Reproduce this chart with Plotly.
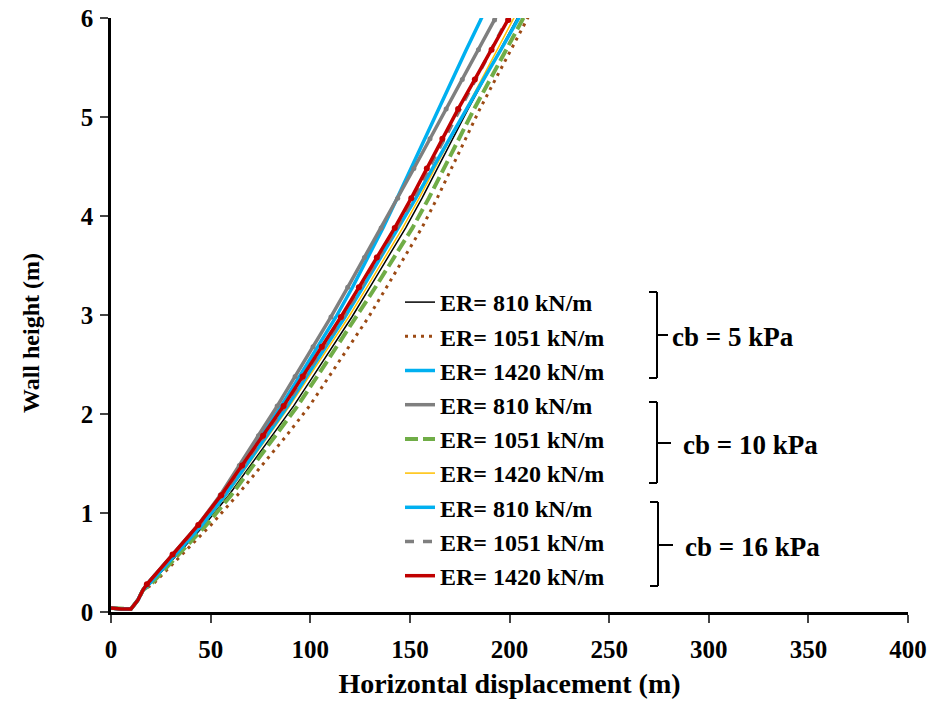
import plotly.graph_objects as go

# ---------------- data ----------------
# common wall-height nodes (m)
y_nodes = [0.04, 0.03, 0.03, 0.12, 0.22,
           0.28, 0.58, 0.88, 1.18, 1.48, 1.78, 2.08, 2.38, 2.68, 2.98,
           3.28, 3.58, 3.88, 4.18, 4.48, 4.78, 5.08, 5.38, 5.68, 5.98, 6.28]

base_x = [0, 5, 10, 13.5, 16]

x_er810_cb5 = base_x + [19.5, 33.3, 47.0, 59.1, 70.0, 81.0, 91.6, 101.4, 111.1, 120.9,
                        129.9, 138.9, 147.9, 156.1, 163.7, 171.4, 179.2, 187.3, 195.4, 203.5, 211.5]
x_er1051_cb5 = base_x + [21.0, 35.6, 50.2, 63.4, 75.7, 88.0, 99.6, 109.5, 119.4, 129.3,
                         138.3, 147.1, 156.0, 163.7, 170.8, 177.8, 185.1, 192.9, 200.7, 208.5, 216.5]
x_er1420_cb5 = base_x + [18.0, 31.1, 44.2, 55.5, 65.6, 75.6, 85.4, 94.6, 103.7, 112.9,
                         121.2, 129.0, 136.5, 143.6, 150.5, 157.3, 164.2, 171.2, 178.3, 185.5, 192.5]
x_er810_cb10 = base_x + [18.0, 30.9, 43.8, 54.8, 64.4, 74.0, 83.4, 92.4, 101.4, 110.4,
                         118.8, 127.2, 135.6, 143.9, 152.0, 160.1, 168.2, 176.3, 184.4, 192.5, 200.5]
x_er1051_cb10 = base_x + [20.0, 34.0, 47.9, 60.3, 71.5, 82.8, 93.6, 103.5, 113.4, 123.3,
                          132.7, 142.0, 151.3, 159.5, 167.0, 174.5, 182.2, 190.3, 198.4, 206.5, 214.5]
x_er1420_cb10 = base_x + [19.0, 32.5, 46.1, 57.9, 68.5, 79.2, 89.6, 99.5, 109.4, 119.3,
                          128.4, 137.4, 146.4, 154.7, 162.5, 170.3, 178.1, 185.9, 193.7, 201.5, 209.5]
x_er810_cb16 = base_x + [19.0, 32.3, 45.7, 57.3, 67.8, 78.3, 88.6, 98.2, 107.8, 117.4,
                         126.4, 135.4, 144.4, 153.0, 161.4, 169.8, 178.3, 187.0, 195.7, 204.4, 212.5]
x_er1051_cb16 = base_x + [18.0, 31.1, 44.2, 55.9, 66.5, 77.2, 87.6, 97.2, 106.8, 116.4,
                          125.4, 134.4, 143.4, 151.7, 159.5, 167.3, 175.1, 182.9, 190.7, 198.5, 206.5]
x_er1420_cb16 = base_x + [18.0, 30.9, 43.8, 55.3, 65.8, 76.3, 86.6, 96.2, 105.8, 115.4,
                          124.4, 133.4, 142.4, 150.7, 158.5, 166.3, 174.2, 182.6, 191.0, 199.4, 207.5]

series_names = ["ER= 810 kN/m", "ER= 1051 kN/m", "ER= 1420 kN/m",
                "ER= 810 kN/m", "ER= 1051 kN/m", "ER= 1420 kN/m",
                "ER= 810 kN/m", "ER= 1051 kN/m", "ER= 1420 kN/m"]
series_x = [x_er810_cb5, x_er1051_cb5, x_er1420_cb5,
            x_er810_cb10, x_er1051_cb10, x_er1420_cb10,
            x_er810_cb16, x_er1051_cb16, x_er1420_cb16]
group_labels = ["cb = 5 kPa", "cb = 10 kPa", "cb = 16 kPa"]

x_ticks = [0, 50, 100, 150, 200, 250, 300, 350, 400]
y_ticks = [0, 1, 2, 3, 4, 5, 6]

# ---------------- styles ----------------
styles = [
    dict(color="#000000", width=1.5, dash="solid"),
    dict(color="#9C4A14", width=3, dash="3px,5px"),
    dict(color="#00B0F0", width=3.5, dash="solid"),
    dict(color="#7F7F7F", width=3.5, dash="solid"),
    dict(color="#70AD47", width=4, dash="13px,5px"),
    dict(color="#FFC000", width=1.5, dash="solid"),
    dict(color="#00B0F0", width=3.5, dash="solid"),
    dict(color="#7F7F7F", width=3.5, dash="9px,9px"),
    dict(color="#C00000", width=3.5, dash="solid"),
]
marker_series = {3: 5, 8: 6}

FONT = "Liberation Serif"

fig = go.Figure()
for i, (name, xs) in enumerate(zip(series_names, series_x)):
    fig.add_trace(go.Scatter(x=xs, y=y_nodes, mode="lines", name=name,
                             line=styles[i], showlegend=True))
    if i in marker_series:
        fig.add_trace(go.Scatter(x=xs[5:], y=y_nodes[5:], mode="markers",
                                 marker=dict(color=styles[i]["color"], size=marker_series[i]),
                                 showlegend=False, hoverinfo="skip"))

# plot area in pixels
L, R, T, B = 111, 908, 18, 612
W, H = 933, 702


def px(x):
    return (x - L) / (R - L)


def py(y):
    return (B - y) / (B - T)


shapes = []
brackets = [
    dict(xv=657, y0=292, y1=378, ym=335, xt=668, xtext=670),
    dict(xv=657, y0=402, y1=483, ym=443, xt=671, xtext=681),
    dict(xv=658, y0=502, y1=586, ym=545, xt=673, xtext=683),
]
annotations = []
for b, lab in zip(brackets, group_labels):
    segs = [((b["xv"] - 8, b["y0"]), (b["xv"], b["y0"])),
            ((b["xv"], b["y0"]), (b["xv"], b["y1"])),
            ((b["xv"] - 8, b["y1"]), (b["xv"], b["y1"])),
            ((b["xv"], b["ym"]), (b["xt"], b["ym"]))]
    for (a, c) in segs:
        shapes.append(dict(type="line", xref="paper", yref="paper",
                           x0=px(a[0]), y0=py(a[1]), x1=px(c[0]), y1=py(c[1]),
                           line=dict(color="black", width=2)))
    annotations.append(dict(xref="paper", yref="paper", x=px(b["xtext"]), y=py(b["ym"] + 2),
                            xanchor="left", yanchor="middle", showarrow=False, text=lab,
                            font=dict(family=FONT, size=27, color="black", weight="bold")))

# y-axis title placed as rotated text
annotations.append(dict(xref="paper", yref="paper", x=px(31), y=py(333),
                        xanchor="center", yanchor="middle", showarrow=False,
                        text="Wall height (m)", textangle=-90,
                        font=dict(family=FONT, size=24, color="black", weight="bold")))

fig.update_layout(
    width=W, height=H,
    margin=dict(l=L, r=W - R, t=T, b=H - B, autoexpand=False),
    paper_bgcolor="white", plot_bgcolor="white",
    shapes=shapes, annotations=annotations,
    legend=dict(x=px(400), y=py(280), xanchor="left", yanchor="top",
                bgcolor="rgba(0,0,0,0)",
                font=dict(family=FONT, size=24, color="black", weight="bold"),
                tracegroupgap=0),
    xaxis=dict(range=[0, 400], tickvals=x_ticks, ticks="outside", ticklen=8, tickwidth=2,
               showline=True, linecolor="black", linewidth=2.5, showgrid=False, zeroline=False,
               tickfont=dict(family=FONT, size=25, color="black", weight="bold"),
               ticklabelstandoff=5,
               title=dict(text="Horizontal displacement (m)", standoff=12,
                          font=dict(family=FONT, size=28, color="black", weight="bold"))),
    yaxis=dict(range=[0, 6], tickvals=y_ticks, ticks="outside", ticklen=8, tickwidth=2,
               showline=True, linecolor="black", linewidth=2.5, showgrid=False, zeroline=False,
               tickfont=dict(family=FONT, size=25, color="black", weight="bold"),
               ticklabelstandoff=2),
)

fig.write_html("out.html")
